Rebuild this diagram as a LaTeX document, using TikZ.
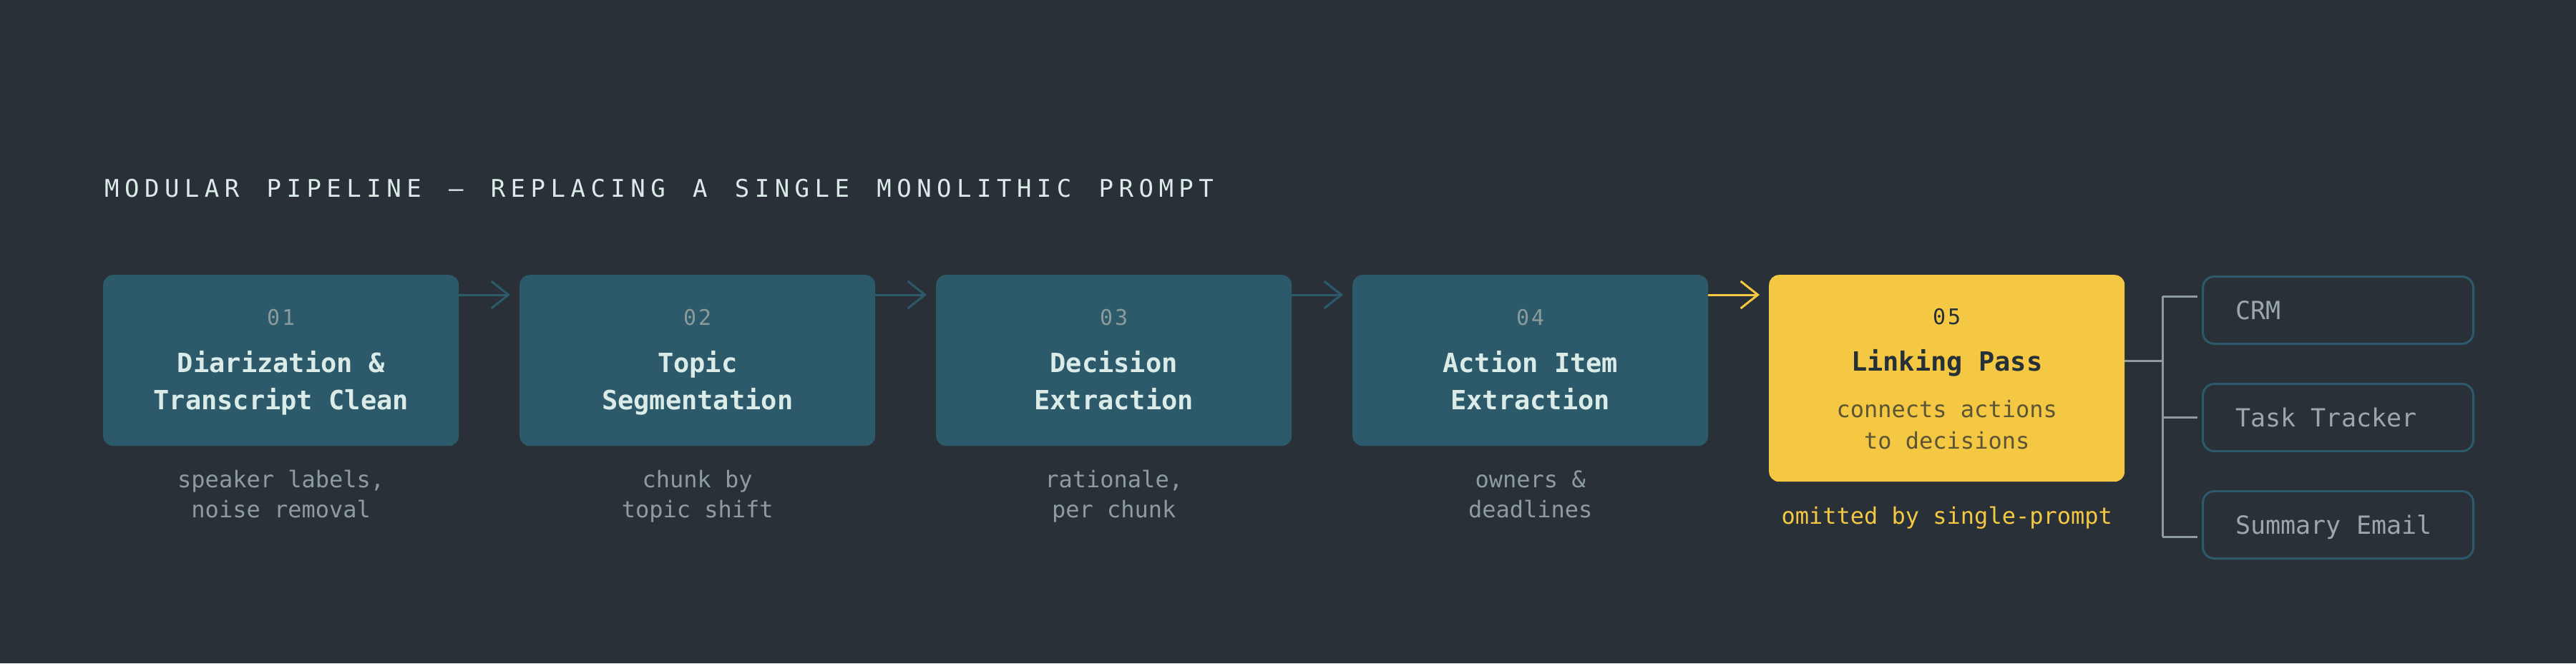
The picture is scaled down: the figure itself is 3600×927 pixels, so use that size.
\documentclass[tikz,border=0pt]{standalone}
\usepackage{fontspec}
\setmainfont{DejaVu Sans Mono}
\newfontfamily\headfont[LetterSpace=22,WordSpace=1.37]{DejaVu Sans Mono}
\newfontfamily\numfont[LetterSpace=10]{DejaVu Sans Mono}
\usetikzlibrary{arrows.meta}
\definecolor{bgc}{HTML}{2A3038}
\definecolor{stagec}{HTML}{2D5A6A}
\definecolor{mint}{HTML}{DBECE8}
\definecolor{numgray}{HTML}{8B9B9C}
\definecolor{notegray}{HTML}{8D9D9F}
\definecolor{gold}{HTML}{F4C842}
\definecolor{ink}{HTML}{263038}
\definecolor{olive}{HTML}{5C5436}
\definecolor{outgray}{HTML}{9AA8AA}
\definecolor{linkgray}{HTML}{8E9CA0}
\tikzset{
  stage/.style={fill=stagec,rounded corners=14pt,minimum width=497pt,minimum height=239pt,anchor=north west,inner sep=0pt},
  stagenum/.style={anchor=base,text=numgray,font=\numfont\fontsize{30}{36}\selectfont},
  stagename/.style={anchor=base,align=center,text=mint,font=\fontsize{37}{52}\selectfont\bfseries},
  stagenote/.style={anchor=base,align=center,text=notegray,font=\fontsize{32}{42}\selectfont},
  flow/.style={line width=3pt,stagec,-{Straight Barb[length=24pt,width=38pt,line width=3pt]},shorten >=13pt},
  outbox/.style={draw=stagec,line width=3pt,fill=bgc,rounded corners=16pt,anchor=north west,minimum height=94pt,
    inner xsep=46pt,text height=25pt,text depth=0pt,text=outgray,font=\fontsize{35}{40}\selectfont},
  branch/.style={line width=3pt,linkgray}
}
\begin{document}
\begin{tikzpicture}[x=1pt,y=-1pt]
\fill[bgc] (0,0) rectangle (3600,927);
\useasboundingbox (0,0) rectangle (3600,927);
\node[anchor=base west,text=mint,inner sep=0pt,font=\headfont\fontsize{34}{40}\selectfont] (title) at (146,275) {MODULAR PIPELINE — REPLACING A SINGLE MONOLITHIC PROMPT};
% the four plain stages (two-line texts sit on their last baseline)
\foreach \i/\x/\t/\c in {1/144/{Diarization \&\\Transcript Clean}/{speaker labels,\\noise removal},
  2/726/{Topic\\Segmentation}/{chunk by\\topic shift},
  3/1308/{Decision\\Extraction}/{rationale,\\per chunk},
  4/1890/{Action Item\\Extraction}/{owners \&\\deadlines}}{
  \node[stage] (s\i) at (\x,384) {};
  \node[stagenum] (n\i) at ([yshift=-70pt]s\i.north) {0\i};
  \node[stagename] (t\i) at ([yshift=-188pt]s\i.north) {\t};
  \node[stagenote] (c\i) at ([yshift=-339pt]s\i.north) {\c};
}
% the linking stage
\node[stage,fill=gold,minimum height=289pt] (s5) at (2472,384) {};
\node[stagenum,text=ink] (n5) at ([yshift=-69pt]s5.north) {05};
\node[stagename,text=ink] (t5) at ([yshift=-134pt]s5.north) {Linking Pass};
\node[stagenote,text=olive,font=\fontsize{32}{44}\selectfont] (c5) at ([yshift=-243pt]s5.north) {connects actions\\to decisions};
\node[stagenote,text=gold] (c6) at ([yshift=-59pt]s5.south) {omitted by single-prompt};
\foreach \i/\j in {1/2,2/3,3/4}
  \draw[flow] ([yshift=-28pt]s\i.north east) -- ([yshift=-28pt]s\j.north west);
\draw[flow,gold] ([yshift=-28pt]s4.north east) -- ([yshift=-28pt]s5.north west);
% outputs
\foreach \k/\y/\o in {1/385/CRM,2/535/Task Tracker,3/685/Summary Email}
  \node[outbox] (o\k) at (3077,\y) {\makebox[286pt][l]{\o}};
\draw[branch] ([yshift=-120pt]s5.north east) -- ++(53,0) coordinate (fork);
\draw[branch] ([xshift=-6pt,yshift=-29pt]o1.north west) -- ++(-49,0) coordinate (f1);
\draw[branch] ([xshift=-6pt]o2.west) -- ++(-49,0) coordinate (f2);
\draw[branch] ([xshift=-6pt,yshift=-65pt]o3.north west) -- ++(-49,0) coordinate (f3);
\draw[branch] (f1) -- (f3);
\end{tikzpicture}
\end{document}
